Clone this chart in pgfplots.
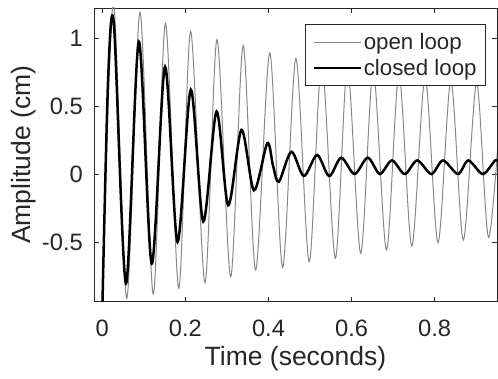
\documentclass[border=0pt]{standalone}
\usepackage{pgfplots}
\pgfplotsset{compat=1.18}
\usepackage{fontspec}
\setmainfont{Liberation Sans}
\definecolor{axc}{RGB}{38,38,38}
\definecolor{openc}{RGB}{135,135,135}
\begin{document}
\begin{tikzpicture}
\begin{axis}[
  at={(94bp,77.3bp)}, anchor=south west,
  scale only axis, width=403bp, height=293.7bp,
  xmin=-0.02, xmax=0.95, ymin=-0.94, ymax=1.222,
  axis line style={axc, line width=0.8bp},
  every tick/.style={axc, line width=0.7bp},
  major tick length=5bp,
  tick align=inside,
  xtick={0,0.2,0.4,0.6,0.8}, xticklabels={0,0.2,0.4,0.6,0.8},
  ytick={-0.5,0,0.5,1}, yticklabels={-0.5,0,0.5,1},
  xticklabel style={font=\fontsize{23.7bp}{28bp}\selectfont, text=axc, inner sep=0pt, anchor=north},
  xticklabel shift=18bp,
  yticklabel style={font=\fontsize{23.7bp}{28bp}\selectfont, text=axc, inner sep=0pt, anchor=east},
  yticklabel shift=11bp,
  xlabel={Time (seconds)}, ylabel={Amplitude (cm)},
  xlabel style={font=\fontsize{26.5bp}{30bp}\selectfont, text=axc, at={(axis description cs:0.5,-0.150)}, anchor=north, inner sep=0pt},
  ylabel style={font=\fontsize{26.5bp}{30bp}\selectfont, text=axc, at={(axis description cs:-0.1422,0.5)}, anchor=south, inner sep=0pt},
  legend style={at={(axis description cs:1,1)}, anchor=north east, xshift=-11bp, yshift=-16bp,
    font=\fontsize{22.3bp}{26bp}\selectfont, text=axc, draw=axc, line width=0.8bp,
    inner xsep=7bp, inner ysep=7bp, row sep=4bp, fill=white},
  legend cell align=left,
  legend image code/.code={\draw[#1] (0bp,0bp) -- (47bp,0bp);},
  clip=true,
]
\addplot[openc, line width=1bp, smooth] coordinates {
(0,-0.95) (0.0265,1.26) (0.0587,-0.915) (0.0906,1.19) (0.1226,-0.884)
(0.152,1.11) (0.184,-0.842) (0.2125,1.05) (0.247,-0.80) (0.276,0.99)
(0.309,-0.756) (0.339,0.945) (0.369,-0.707) (0.403,0.89) (0.434,-0.687)
(0.466,0.85) (0.498,-0.646) (0.528,0.82) (0.561,-0.62) (0.590,0.79)
(0.622,-0.584) (0.652,0.76) (0.684,-0.56) (0.714,0.735) (0.745,-0.53)
(0.777,0.71) (0.808,-0.506) (0.839,0.686) (0.869,-0.486) (0.901,0.666)
(0.930,-0.466) (0.962,0.65)
};
\addlegendentry{open loop}
\addplot[black, line width=2.5bp, smooth] coordinates {
(0,-1.0) (0.014,0.70) (0.028,1.10) (0.057,-0.805) (0.088,0.974)
(0.119,-0.66) (0.151,0.79) (0.181,-0.50) (0.213,0.62) (0.243,-0.35)
(0.275,0.46) (0.303,-0.23) (0.335,0.325) (0.365,-0.12) (0.397,0.226)
(0.411,0.06) (0.425,-0.057) (0.455,0.164) (0.485,-0.015) (0.517,0.14)
(0.546,-0.015) (0.575,0.12) (0.607,0.0) (0.639,0.12) (0.668,0.0)
(0.697,0.10) (0.728,0.0) (0.758,0.10) (0.792,0.0) (0.820,0.10)
(0.856,0.0) (0.881,0.10) (0.916,0.0) (0.946,0.10) (0.96,0.08)
};
\addlegendentry{closed loop}
\end{axis}
\pgfresetboundingbox
\path[use as bounding box] (0,0) rectangle (498bp,379bp);
\end{tikzpicture}
\end{document}
